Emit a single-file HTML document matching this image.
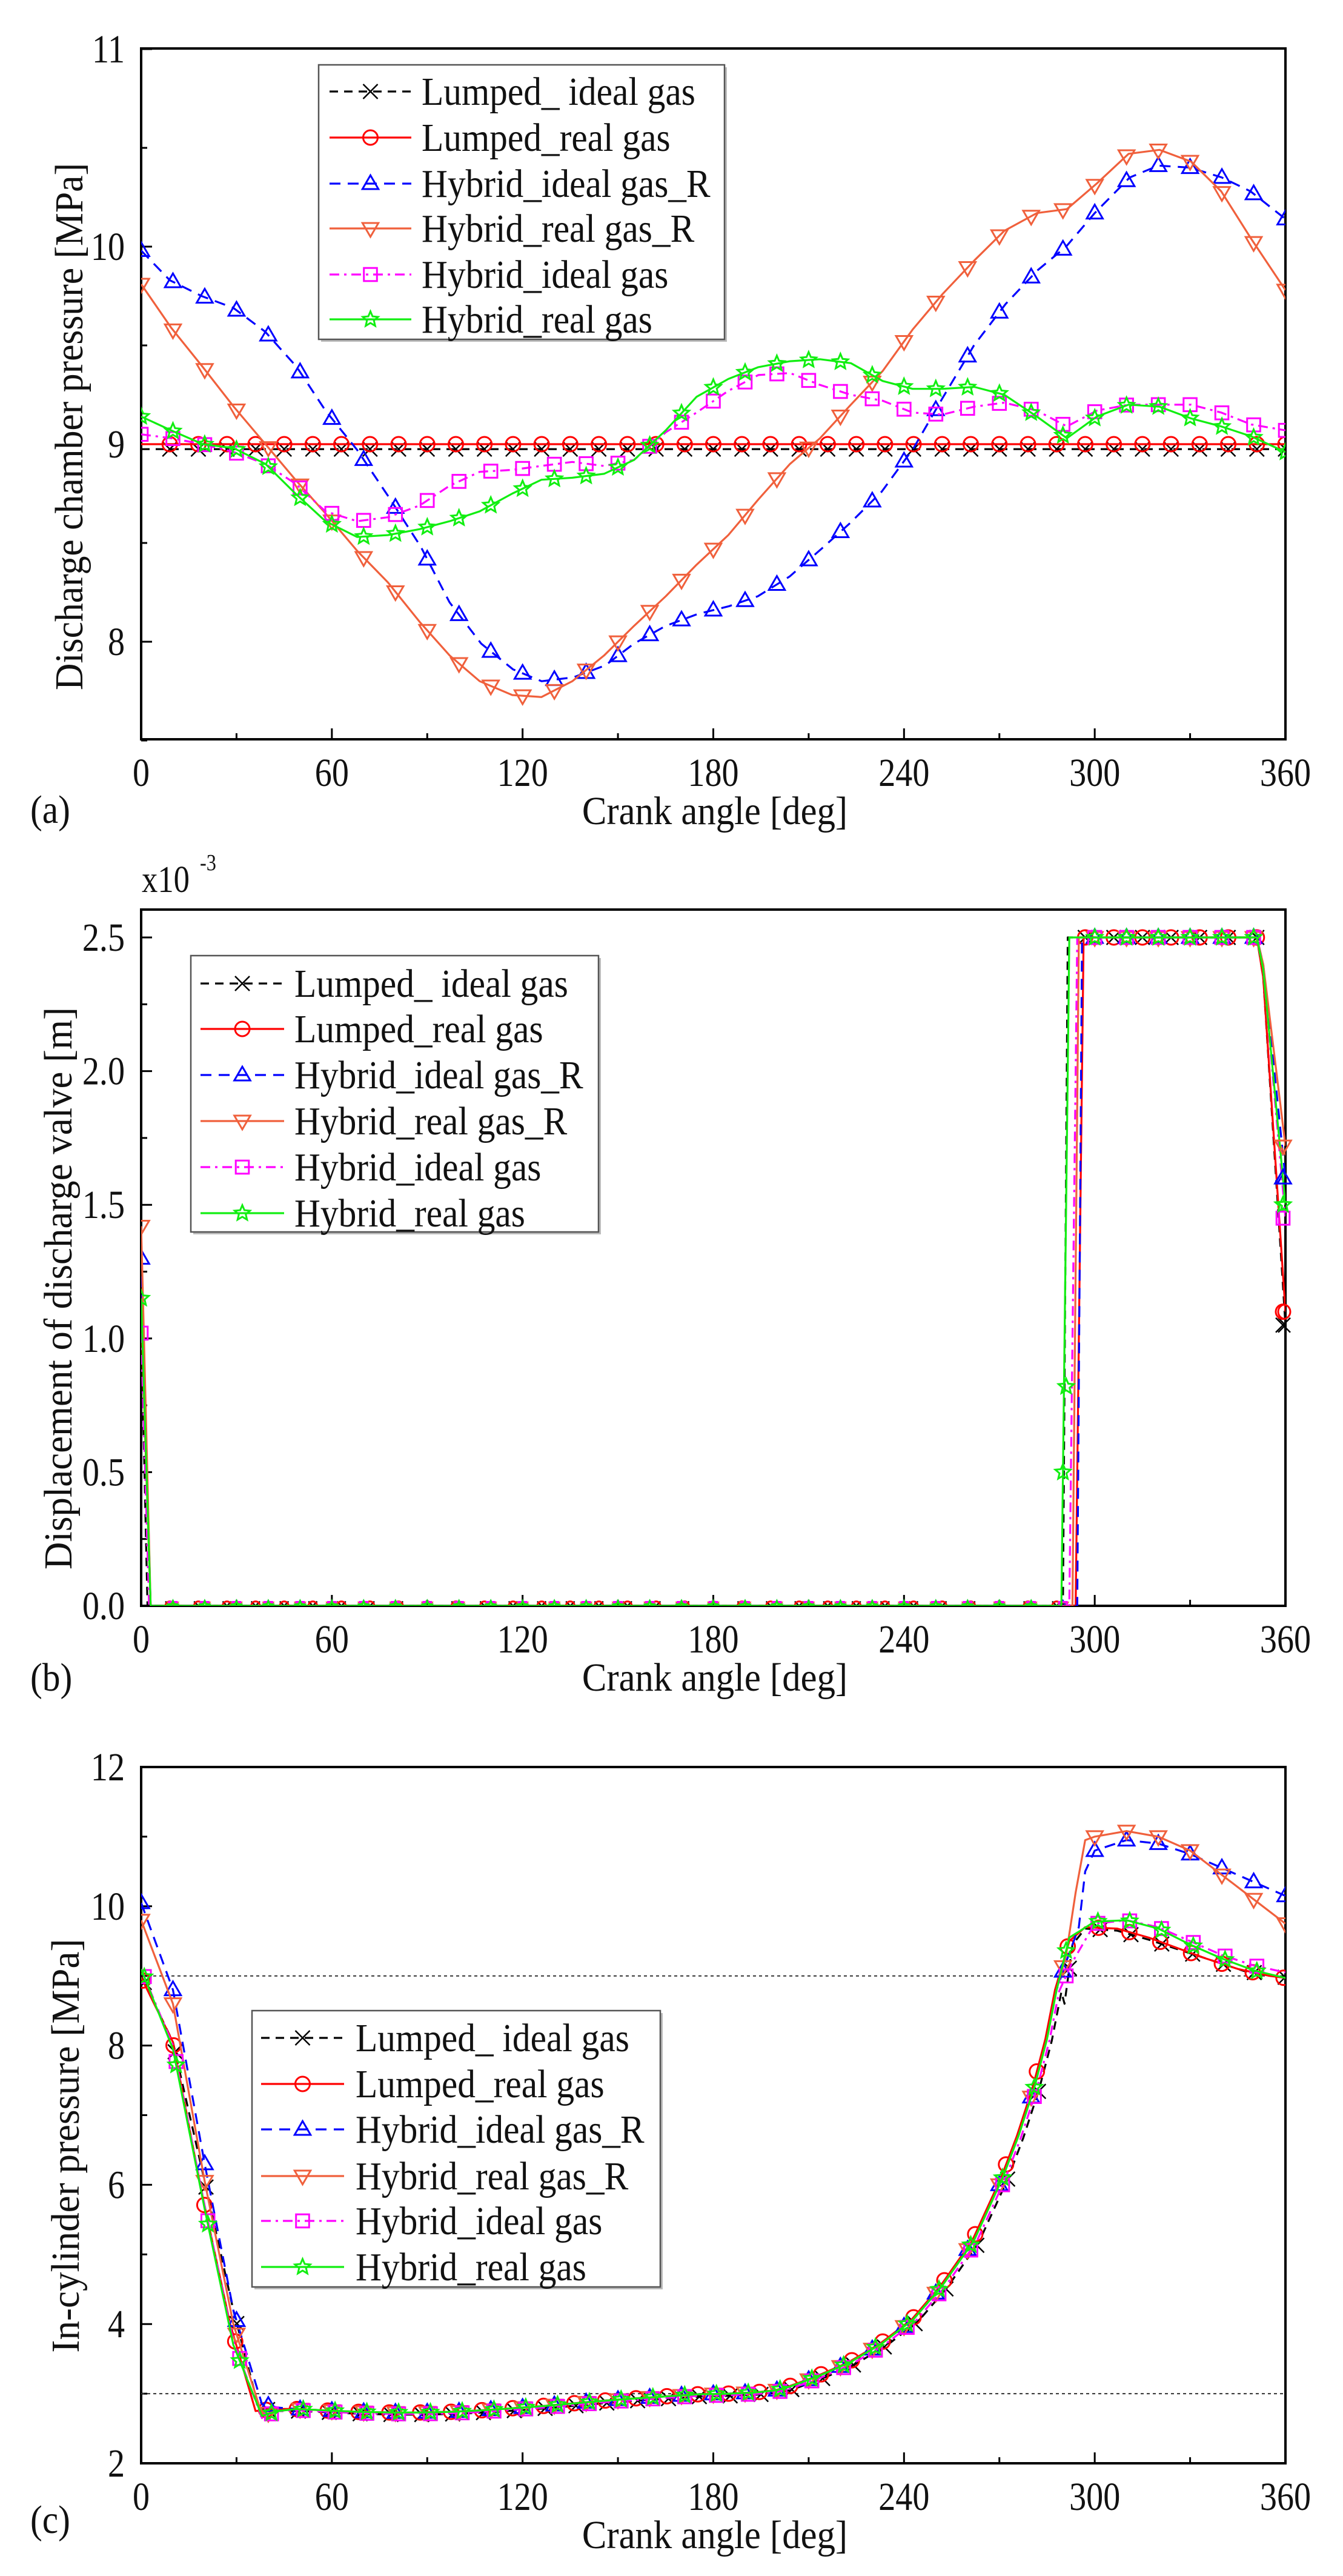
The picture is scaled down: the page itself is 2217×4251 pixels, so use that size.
<!DOCTYPE html>
<html><head><meta charset="utf-8"><style>
html,body{margin:0;padding:0;background:#fff;}
svg{display:block;}
svg text{font-family:"Liberation Serif","Times New Roman","DejaVu Serif",serif;fill:#111;}
</style></head><body>
<svg id="s" xmlns="http://www.w3.org/2000/svg" width="2217" height="4251" viewBox="0 0 2217 4251">
<defs><clipPath id="ca"><rect x="233" y="80" width="1889" height="1140"/></clipPath>
<clipPath id="cb"><rect x="233" y="1501" width="1889" height="1149"/></clipPath>
<clipPath id="cc"><rect x="233" y="2916" width="1889" height="1149"/></clipPath></defs>
</svg>
<script>
var S=document.getElementById('s'),NS='http://www.w3.org/2000/svg';
var FF='"Liberation Serif", "Times New Roman", serif';
function el(t,a,p){var e=document.createElementNS(NS,t);for(var k in a)e.setAttribute(k,a[k]);(p||S).appendChild(e);return e;}
function txt(s,x,y,fs,anchor,sx,p){var g=el('g',{transform:'translate('+x+','+y+') scale('+sx+',1)'},p);var t=el('text',{x:0,y:0,'font-size':fs,'font-family':FF,'text-anchor':anchor||'start'},g);t.textContent=s;return t;}
var X0=233,X1=2122;function X(d){return X0+d*(X1-X0)/360;}
var ST={
 li:{c:'#000',d:'14,10',m:'x'},
 lr:{c:'#ff0000',d:'',m:'o'},
 hiR:{c:'#0000ff',d:'18,12',m:'tu'},
 hrR:{c:'#f0603c',d:'',m:'td'},
 hi:{c:'#ff00ff',d:'16,8,4,8',m:'sq'},
 hr:{c:'#11ee11',d:'',m:'st'}};
var ORDER=['li','lr','hiR','hrR','hi','hr'];
var NAMES={li:'Lumped_ ideal gas',lr:'Lumped_real gas',hiR:'Hybrid_ideal gas_R',hrR:'Hybrid_real gas_R',hi:'Hybrid_ideal gas',hr:'Hybrid_real gas'};
function marker(m,x,y,c,s,p){s=s||1;var r=12*s,a={fill:'none',stroke:c,'stroke-width':3};
 if(m=='x'){el('path',{d:'M'+(x-r)+' '+(y-r)+'L'+(x+r)+' '+(y+r)+'M'+(x-r)+' '+(y+r)+'L'+(x+r)+' '+(y-r),stroke:c,'stroke-width':2.5,fill:'none'},p);}
 else if(m=='o'){a.cx=x;a.cy=y;a.r=r;el('circle',a,p);}
 else if(m=='tu'){a.points=x+','+(y-r*1.15)+' '+(x-r*1.1)+','+(y+r*0.75)+' '+(x+r*1.1)+','+(y+r*0.75);el('polygon',a,p);}
 else if(m=='td'){a.points=x+','+(y+r*1.15)+' '+(x-r*1.1)+','+(y-r*0.75)+' '+(x+r*1.1)+','+(y-r*0.75);el('polygon',a,p);}
 else if(m=='sq'){a.x=x-r*0.9;a.y=y-r*0.9;a.width=r*1.8;a.height=r*1.8;el('rect',a,p);}
 else if(m=='st'){var pts=[];for(var i=0;i<10;i++){var rr=i%2?r*0.5:r*1.1,an=-Math.PI/2+i*Math.PI/5;pts.push((x+rr*Math.cos(an)).toFixed(1)+','+(y+rr*Math.sin(an)).toFixed(1));}a.points=pts.join(' ');el('polygon',a,p);}
}
function interp(P,d){if(d<=P[0][0])return P[0][1];for(var i=1;i<P.length;i++){if(d<=P[i][0]){var t=(d-P[i-1][0])/(P[i][0]-P[i-1][0]);return P[i-1][1]+t*(P[i][1]-P[i-1][1]);}}return P[P.length-1][1];}
function series(P,Y,k,clip,step,off,ms,mfilter){var s=ST[k];var g=el('g',{'clip-path':'url(#'+clip+')'});
 var d='';P.forEach(function(q,i){d+=(i?'L':'M')+X(q[0]).toFixed(1)+' '+Y(q[1]).toFixed(1);});
 el('path',{d:d,fill:'none',stroke:s.c,'stroke-width':3.2,'stroke-dasharray':s.d,'stroke-linejoin':'round'},g);
 for(var dd=off;dd<=360.01;dd+=step){var v=interp(P,dd);if(mfilter&&!mfilter(dd,v))continue;marker(s.m,X(dd),Y(v),s.c,ms?ms(v):1,g);}
}
function frame(yt,yb,yTicks,yMinor,Y,fmt,labx){
 el('rect',{x:X0,y:yt,width:X1-X0,height:yb-yt,fill:'none',stroke:'#000','stroke-width':4});
 for(var d=0;d<=360;d+=30){var L=d%60?10:18;el('line',{x1:X(d),x2:X(d),y1:yb,y2:yb-L,stroke:'#000','stroke-width':3});}
 for(var d=0;d<=360;d+=60){txt(String(d),X(d),yb+77,66,'middle',0.85);}
 yMinor.forEach(function(v){el('line',{x1:X0,x2:X0+10,y1:Y(v),y2:Y(v),stroke:'#000','stroke-width':3});});
 yTicks.forEach(function(v){el('line',{x1:X0,x2:X0+18,y1:Y(v),y2:Y(v),stroke:'#000','stroke-width':3});txt(fmt(v),labx,Y(v)+22,66,'end',0.85);});
 txt('Crank angle [deg]',1180,yb+140,66,'middle',0.92);
}
function legend(x,y,w,h,lx1,lx2,tx,rows){
 el('rect',{x:x+4,y:y+4,width:w,height:h,fill:'#bbb'});
 el('rect',{x:x,y:y,width:w,height:h,fill:'#fff',stroke:'#555','stroke-width':2.5});
 ORDER.forEach(function(k,i){var s=ST[k],yy=rows[i];
  el('line',{x1:lx1,x2:lx2,y1:yy,y2:yy,stroke:s.c,'stroke-width':3.2,'stroke-dasharray':s.d});
  marker(s.m,(lx1+lx2)/2,yy,s.c,1);
  txt(NAMES[k],tx,yy+22,66,'start',0.9);});
}
function ytitle(s,x,yc,len){var t=el('text',{x:0,y:0,'font-size':66,'font-family':FF,'text-anchor':'middle',textLength:len,lengthAdjust:'spacingAndGlyphs',transform:'translate('+x+','+yc+') rotate(-90)'});t.textContent=s;}

/* ===== Panel A ===== */
var YA=function(v){return 733-(v-9)*326;};
function zx(a){return a.map(function(q){return [(q[0]-165)*360/1335,q[1]];});}
var A={
hiR:[[0,9.98],[9,9.83],[19,9.75],[29,9.69],[39,9.57],[49,9.39],[58,9.17],[68,8.97],[78,8.73],[88,8.48],[97,8.2],[107,7.99],[117,7.86],[126,7.8],[136,7.82],[146,7.88],[155,7.99],[165,8.08],[175,8.14],[185,8.18],[194,8.23],[204,8.33],[214,8.47],[223,8.6],[233,8.76],[243,8.98],[252,9.23],[262,9.5],[272,9.71],[282,9.88],[291,10.0],[300,10.17],[311,10.35],[320,10.41],[330,10.4],[340,10.35],[349,10.28],[360,10.14]],
hrR:zx([[165,9.81],[200,9.59],[237,9.39],[273,9.19],[310,9.0],[345,8.82],[380,8.65],[417,8.46],[453,8.3],[490,8.1],[525,7.93],[560,7.8],[598,7.73],[632,7.72],[668,7.8],[705,7.93],[740,8.08],[777,8.23],[813,8.39],[850,8.54],[885,8.72],[922,8.9],[957,9.03],[993,9.2],[1030,9.37],[1065,9.58],[1100,9.76],[1137,9.93],[1172,10.08],[1210,10.17],[1245,10.19],[1280,10.32],[1317,10.47],[1353,10.49],[1390,10.43],[1425,10.28],[1460,10.04],[1500,9.78]]),
hi:zx([[165,9.05],[200,9.03],[237,9.0],[273,8.96],[310,8.9],[345,8.8],[380,8.66],[417,8.61],[453,8.63],[490,8.69],[525,8.79],[560,8.86],[598,8.87],[632,8.89],[668,8.91],[705,8.89],[740,8.92],[777,9.06],[813,9.16],[850,9.27],[885,9.35],[922,9.36],[957,9.3],[993,9.25],[1030,9.22],[1065,9.16],[1100,9.15],[1137,9.19],[1172,9.21],[1210,9.17],[1245,9.09],[1280,9.17],[1317,9.2],[1353,9.2],[1390,9.2],[1425,9.16],[1460,9.1],[1500,9.07]]),
hr:zx([[165,9.14],[200,9.07],[237,9.0],[273,8.98],[310,8.9],[345,8.75],[380,8.61],[417,8.53],[453,8.54],[490,8.57],[525,8.61],[560,8.66],[598,8.75],[632,8.82],[668,8.83],[705,8.85],[740,8.92],[777,9.07],[813,9.24],[850,9.33],[885,9.39],[922,9.42],[957,9.43],[993,9.41],[1030,9.32],[1065,9.28],[1100,9.28],[1137,9.29],[1172,9.25],[1210,9.14],[1245,9.03],[1280,9.14],[1317,9.2],[1353,9.19],[1390,9.13],[1425,9.09],[1460,9.04],[1500,8.96]]),
li:[[0,8.975],[360,8.975]],lr:[[0,9.0],[360,9.0]]};
frame(80,1220,[8,9,10,11],[7.5,8.5,9.5,10.5],YA,function(v){return String(v);},206);
series(A.li,YA,'li','ca',9,9);
series(A.lr,YA,'lr','ca',9,9);
series(A.hiR,YA,'hiR','ca',10,0);
series(A.hrR,YA,'hrR','ca',10,0);
series(A.hi,YA,'hi','ca',10,0);
series(A.hr,YA,'hr','ca',10,0);
legend(526,107,670,453,544,679,696,[151,227,303,377,453,527]);
ytitle('Discharge chamber pressure [MPa]',136,704,870);
txt('(a)',50,1358,66,'start',0.9);

/* ===== Panel B ===== */
var YB=function(v){return 2650-v*441.2;};
var B={
li:[[0,1.05],[2,0],[290,0],[291.5,2.5],[351,2.5],[353,2.35],[360,1.05]],
lr:[[0,1.1],[3,0],[294,0],[296.5,2.5],[351,2.5],[353,2.35],[360,1.1]],
hiR:[[0,1.3],[3,0],[294.5,0],[296,2.5],[351,2.5],[353,2.4],[360,1.6]],
hrR:[[0,1.42],[3,0],[293,0],[295,2.5],[351,2.5],[353,2.4],[360,1.72]],
hi:[[0,1.02],[2.5,0],[292,0],[294.5,2.5],[351,2.5],[353,2.38],[360,1.45]],
hr:[[0,1.15],[3,0],[289.5,0],[292,2.5],[351,2.5],[353,2.38],[360,1.5]]};
frame(1501,2650,[0,0.5,1,1.5,2,2.5],[0.25,0.75,1.25,1.75,2.25],YB,function(v){return v.toFixed(1);},206);
var msB=function(v){return v<0.05?0.6:1;};
['li','lr'].forEach(function(k){series(B[k],YB,k,'cb',9,9,msB);});
['hiR','hrR','hi','hr'].forEach(function(k){series(B[k],YB,k,'cb',10,0,msB);});
['hiR','hrR','hi','hr','lr','li'].forEach(function(k){marker(ST[k].m,X(360)-4,YB(B[k][B[k].length-1][1]),ST[k].c,1);});
marker('st',X(291),YB(0.82),ST.hr.c,1);
legend(315,1577,673,456,331,469,486,[1623,1698,1774,1850,1926,2002]);
ytitle('Displacement of discharge valve [m]',118,2126,928);
txt('x10',234,1472,62,'start',0.85);
txt('-3',330,1436,38,'start',0.85);
txt('(b)',50,2790,66,'start',0.9);

/* ===== Panel C ===== */
var YC=function(v){return 4065-(v-2)*114.9;};
var P=[[49,2.78],[58,2.76],[68,2.74],[78,2.73],[88,2.73],[98,2.74],[107,2.76],[117,2.79],[126,2.82],[136,2.86],[146,2.9],[155,2.93],[165,2.96],[175,2.99],[185,3.0],[194,3.02],[200,3.05],[204,3.1],[213,3.25],[223,3.45],[233,3.72],[243,4.07],[252,4.55],[262,5.2],[271,6.1],[276,6.7],[281,7.4],[285,8.1],[288,8.8]];
function wrap(st,en,dv,dx){return st.concat(P.map(function(q){return [q[0]+(dx||0),q[1]+(dv||0)];}),en);}
var C={
li:wrap([[0,9.0],[10,8.05],[20,6.05],[29,4.2],[37,2.8],[42,2.75]],[[290.5,8.6],[293,9.45],[297,9.68],[307,9.65],[317,9.52],[327,9.37],[337,9.22],[347,9.07],[360,8.98]],-0.03,1.5),
lr:wrap([[0,8.98],[10,8.05],[19,5.9],[28,4.0],[36,2.75],[42,2.78]],[[292,9.5],[297,9.7],[307,9.68],[317,9.55],[326,9.4],[335,9.25],[345,9.1],[355,9.0],[360,8.97]],0.0,-0.5),
hiR:wrap([[0,10.05],[10,8.8],[20,6.3],[29,4.2],[38,2.85],[43,2.8]],[[291,9.2],[295,9.7],[297,10.5],[300,10.8],[310,10.95],[320,10.9],[330,10.75],[340,10.55],[350,10.35],[360,10.15]],0,0),
hrR:wrap([[0,9.8],[10,8.6],[20,6.05],[29,4.0],[38,2.7],[43,2.75]],[[291,9.3],[294,10.2],[297,10.95],[300,11.0],[310,11.08],[320,11.0],[330,10.8],[340,10.45],[350,10.1],[360,9.75]],0,0),
hi:wrap([[0,9.1],[10,8.0],[20,5.7],[29,3.75],[38,2.65],[43,2.75]],[[293,9.2],[300,9.75],[310,9.8],[320,9.7],[330,9.5],[340,9.3],[350,9.15],[360,9.05]],-0.02,0.8),
hr:wrap([[0,9.1],[10,7.95],[20,5.65],[29,3.7],[38,2.68],[43,2.75]],[[292,9.55],[300,9.78],[310,9.8],[320,9.68],[330,9.45],[340,9.25],[350,9.08],[360,8.97]],0,0)};
frame(2916,4065,[2,4,6,8,10,12],[3,5,7,9,11],YC,function(v){return String(v);},206);
el('line',{x1:X0,x2:X1,y1:YC(9),y2:YC(9),stroke:'#333','stroke-width':2,'stroke-dasharray':'5,5'});
el('line',{x1:X0,x2:X1,y1:YC(3),y2:YC(3),stroke:'#333','stroke-width':2,'stroke-dasharray':'5,5'});
series(C.li,YC,'li','cc',9.7,1);
series(C.lr,YC,'lr','cc',9.7,0.5);
series(C.hiR,YC,'hiR','cc',10,0);
series(C.hrR,YC,'hrR','cc',10,0);
series(C.hi,YC,'hi','cc',10,1);
series(C.hr,YC,'hr','cc',10,1);
legend(416,3318,674,456,431,568,587,[3363,3439,3514,3591,3665,3741]);
ytitle('In-cylinder pressure [MPa]',130,3541,683);
txt('(c)',50,4180,66,'start',0.9);
</script>
</body></html>
